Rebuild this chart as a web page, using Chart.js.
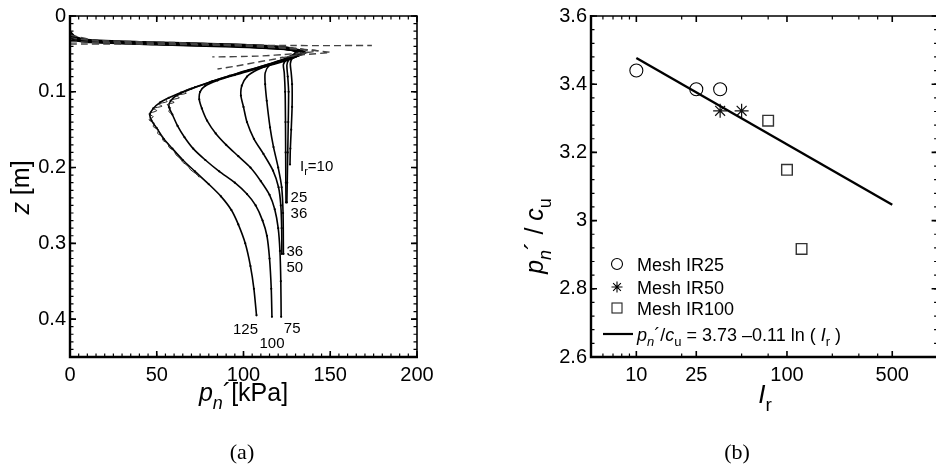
<!DOCTYPE html>
<html>
<head>
<meta charset="utf-8">
<script src="https://cdn.jsdelivr.net/npm/chart.js@4.4.1/dist/chart.umd.min.js"></script>
<style>
  html, body { margin: 0; padding: 0; background: #fff; width: 936px; height: 468px; overflow: hidden; }
  #wrapA { position: absolute; left: 0; top: 0; width: 460px; height: 468px; }
  #wrapB { position: absolute; left: 470px; top: 0; width: 480px; height: 468px; }
</style>
</head>
<body>
<div id="wrapA"><canvas id="chartA"></canvas></div>
<div id="wrapB"><canvas id="chartB"></canvas></div>
<script>
// ---------- Panel (a): normal pressure profiles p_n' [kPa] against depth z [m] ----------
const profIr10  = [[0,0.020],[3,0.027],[10,0.031],[40,0.034],[90,0.037],[120,0.040],[130,0.044],[131,0.050],[128,0.056],[127,0.063],[127.5,0.075],[128,0.090],[128,0.120],[127.5,0.150],[127,0.175],[126.8,0.196]];
const profIr25  = [[0,0.021],[3,0.028],[12,0.032],[50,0.035],[100,0.038],[126,0.042],[132,0.046],[129,0.052],[126,0.058],[125,0.065],[125.5,0.080],[126,0.100],[125.8,0.140],[125.5,0.180],[125.2,0.220],[125,0.246]];
const profIr36a = [[0,0.022],[4,0.029],[15,0.033],[55,0.036],[100,0.039],[128,0.043],[135,0.047],[130,0.053],[125,0.058],[123,0.064],[123.5,0.075],[124,0.100],[124.2,0.140],[124.3,0.180],[124.4,0.220],[124.5,0.246]];
const profIr36b = [[0,0.032],[12,0.035],[50,0.038],[95,0.041],[125,0.044],[136,0.048],[130,0.054],[121,0.059],[115,0.065],[112.5,0.075],[112.5,0.090],[113.4,0.112],[115.3,0.147],[117.3,0.173],[120,0.200],[122,0.226],[122.8,0.260],[123,0.314]];
const profIr50  = [[0,0.030],[10,0.034],[40,0.037],[90,0.040],[120,0.043],[134,0.047],[132,0.052],[124,0.058],[116,0.064],[108,0.071],[102,0.080],[99,0.092],[98.5,0.105],[100,0.120],[102,0.140],[106,0.162],[111.5,0.182],[117,0.204],[120.2,0.226],[121.5,0.250],[122,0.280],[122.1,0.314]];
const profIr75  = [[0,0.028],[8,0.033],[30,0.036],[80,0.039],[110,0.042],[132,0.046],[133,0.050],[127,0.057],[117,0.064],[106,0.071],[95,0.078],[85,0.085],[78,0.092],[75,0.100],[74.5,0.110],[76,0.122],[79,0.138],[84,0.155],[90,0.170],[97,0.185],[104,0.200],[110,0.218],[115,0.236],[118,0.255],[120,0.280],[121,0.310],[121.5,0.350],[121.7,0.397]];
const profIr100 = [[0,0.026],[6,0.032],[25,0.035],[70,0.038],[105,0.041],[128,0.045],[131,0.049],[125,0.056],[114,0.064],[103,0.071],[92,0.079],[81,0.087],[70,0.096],[62,0.104],[58,0.112],[57,0.120],[59,0.130],[62,0.145],[66,0.160],[71,0.175],[78,0.190],[86,0.205],[95,0.220],[102,0.235],[107,0.250],[111,0.270],[113.5,0.290],[115,0.320],[116,0.360],[116.4,0.397]];
const profIr125 = [[0,0.024],[5,0.031],[20,0.035],[60,0.037],[100,0.040],[125,0.044],[130,0.048],[124,0.056],[115,0.063],[104,0.071],[92,0.079],[82,0.086],[72,0.094],[64,0.101],[57,0.108],[52,0.114],[48,0.122],[46,0.130],[47,0.138],[50,0.148],[54,0.162],[59,0.175],[65,0.190],[72,0.205],[80,0.222],[87,0.238],[93,0.256],[97,0.275],[101,0.300],[104,0.330],[106,0.360],[107.5,0.395]];

// unsmoothed traces near the pressure minimum
const rawIr125 = [[58,0.107],[55,0.110],[56,0.113],[51,0.116],[53,0.119],[48,0.122],[50,0.125],[45.5,0.129],[48,0.133],[45.5,0.137],[48.5,0.141],[48,0.146],[51,0.150],[50.5,0.155],[53.5,0.159],[53.5,0.164],[56.5,0.168],[57,0.173],[60,0.178],[61,0.183],[63.5,0.188],[65,0.193],[68,0.198],[69.5,0.203],[72.5,0.208],[74.5,0.213]];
const rawIr100 = [[70,0.095],[66,0.099],[67,0.102],[61,0.105],[63,0.108],[58,0.111],[60,0.114],[56,0.117],[58,0.121],[57,0.126],[59,0.130]];

// dashed traces of the shallow pressure peak
const peakDashA = [[0,0.037],[30,0.037],[80,0.038],[130,0.039],[174,0.039]];
const peakDashB = [[0,0.034],[40,0.036],[95,0.039],[128,0.043],[143,0.046],[128,0.050],[108,0.053],[82,0.054]];
const peakDashC = [[0,0.029],[20,0.034],[70,0.037],[115,0.041],[138,0.045],[150,0.048],[135,0.051],[121,0.055]];
const peakDashD = [[0,0.025],[15,0.032],[60,0.035],[110,0.039],[132,0.043],[138,0.047],[125,0.054],[110,0.060],[96,0.066],[85,0.070]];

const pTicksA = [0, 50, 100, 150, 200];
const zTicksA = [0, 0.1, 0.2, 0.3, 0.4];

// ---------- Panel (b): normalised pressure against rigidity index ----------
const meshIR25_Ir  = [10, 25, 36];
const meshIR25_pc  = [3.44, 3.385, 3.385];
const meshIR50_Ir  = [36, 50];
const meshIR50_pc  = [3.322, 3.322];
const meshIR100_Ir = [75, 100, 125];
const meshIR100_pc = [3.293, 3.149, 2.917];
const fitA = 3.73, fitB = 0.11;          // p_n'/c_u = 3.73 - 0.11 ln(I_r)
const fitIr = [10, 500];
const irTicksB  = [10, 25, 100, 500];
const irMinorB  = [6, 7, 8, 9, 20, 50, 75, 200, 300, 400];
const pcTicksB  = [2.6, 2.8, 3, 3.2, 3.4, 3.6];

const FONT = '"Liberation Sans", Arial, sans-serif';
const SERIF = '"Liberation Serif", "DejaVu Serif", serif';

const toXY = arr => arr.map(([x, y]) => ({ x, y }));

// text made of plain / italic / subscript runs
function richText(ctx, parts, x, y, size, align = 'left', rot = 0) {
  const fontOf = st => (st.includes('i') ? 'italic ' : '') + (st.includes('s') ? Math.round(size * 0.72) : size) + 'px ' + FONT;
  ctx.save();
  ctx.translate(x, y);
  if (rot) ctx.rotate(rot);
  let total = 0;
  parts.forEach(([t, st = '']) => { ctx.font = fontOf(st); total += ctx.measureText(t).width; });
  let cx = align === 'center' ? -total / 2 : (align === 'right' ? -total : 0);
  ctx.textAlign = 'left';
  ctx.textBaseline = 'alphabetic';
  ctx.fillStyle = '#000';
  parts.forEach(([t, st = '']) => {
    ctx.font = fontOf(st);
    ctx.fillText(t, cx, st.includes('s') ? size * 0.3 : 0);
    cx += ctx.measureText(t).width;
  });
  ctx.restore();
}

// box frame with inward tick marks on all four sides
const frameTicks = {
  id: 'frameTicks',
  afterDatasetsDraw(chart, args, o) {
    const { ctx, chartArea: a, scales: { x, y } } = chart;
    ctx.save();
    ctx.strokeStyle = '#000';
    const xMarks = (vals, len) => {
      vals.forEach(v => {
        const px = x.getPixelForValue(v);
        if (px < a.left - 0.5 || px > a.right + 0.5) return;
        ctx.moveTo(px, a.bottom); ctx.lineTo(px, a.bottom - len);
        ctx.moveTo(px, a.top); ctx.lineTo(px, a.top + len);
      });
    };
    const yMarks = (vals, len) => {
      vals.forEach(v => {
        const py = y.getPixelForValue(v);
        if (py < a.top - 0.5 || py > a.bottom + 0.5) return;
        ctx.moveTo(a.left, py); ctx.lineTo(a.left + len, py);
        ctx.moveTo(a.right, py); ctx.lineTo(a.right - len, py);
      });
    };
    ctx.lineWidth = 1.2;
    ctx.beginPath();
    xMarks(o.xMinor, o.minorLen); yMarks(o.yMinor, o.minorLen);
    ctx.stroke();
    ctx.lineWidth = 1.6;
    ctx.beginPath();
    xMarks(o.xMajor, o.majorLen); yMarks(o.yMajor, o.majorLen);
    ctx.stroke();
    // frame: heavier left/bottom
    ctx.lineWidth = 1.6;
    ctx.beginPath();
    ctx.moveTo(a.left, a.top); ctx.lineTo(a.right, a.top); ctx.lineTo(a.right, a.bottom);
    ctx.stroke();
    ctx.lineWidth = 2.4;
    ctx.beginPath();
    ctx.moveTo(a.left, a.top - 1); ctx.lineTo(a.left, a.bottom); ctx.lineTo(a.right + 1, a.bottom);
    ctx.stroke();
    ctx.restore();
  }
};

const range = (a, b, step) => { const out = []; for (let v = a; v <= b + 1e-9; v += step) out.push(+v.toFixed(4)); return out; };

// ----- labels / titles for panel (a)
const tagsA = {
  id: 'tagsA',
  afterDraw(chart) {
    const { ctx, scales: { x, y } } = chart;
    const at = (pt, dx, dy) => [x.getPixelForValue(pt[0]) + dx, y.getPixelForValue(pt[1]) + dy];
    const end = arr => arr[arr.length - 1];
    const small = 15;
    let [tx, ty] = at(end(profIr10), 10, 6);
    richText(ctx, [['I'], ['r', 's'], ['=10']], tx, ty, small, 'left');
    [tx, ty] = at(end(profIr25), 12, 0); richText(ctx, [['25']], tx, ty, small, 'center');
    [tx, ty] = at(end(profIr25), 12, 16); richText(ctx, [['36']], tx, ty, small, 'center');
    [tx, ty] = at(end(profIr50), 13, 2); richText(ctx, [['36']], tx, ty, small, 'center');
    [tx, ty] = at(end(profIr50), 13, 18); richText(ctx, [['50']], tx, ty, small, 'center');
    [tx, ty] = at(end(profIr125), -11, 19); richText(ctx, [['125']], tx, ty, small, 'center');
    [tx, ty] = at(end(profIr75), 11, 16); richText(ctx, [['75']], tx, ty, small, 'center');
    [tx, ty] = at(end(profIr100), 0, 31); richText(ctx, [['100']], tx, ty, small, 'center');

    const a = chart.chartArea;
    richText(ctx, [['p', 'i'], ['n', 'is'], ['\u00B4[kPa]']], (a.left + a.right) / 2 + 0, 401, 25, 'center');
    richText(ctx, [['z', 'i'], [' [m]']], 29, (a.top + a.bottom) / 2 + 1, 25, 'center', -Math.PI / 2);
    ctx.save();
    ctx.font = '22px ' + SERIF; ctx.fillStyle = '#000'; ctx.textAlign = 'center'; ctx.textBaseline = 'alphabetic';
    ctx.fillText('(a)', 242, 459);
    ctx.restore();
  }
};

// ----- legend / titles for panel (b)
const tagsB = {
  id: 'tagsB',
  afterDraw(chart) {
    const { ctx, chartArea: a } = chart;
    const sx = a.left + 26, tx = a.left + 46, fs = 18;
    const rows = [a.top + 248, a.top + 271, a.top + 292, a.top + 318];
    ctx.save();
    ctx.strokeStyle = '#000'; ctx.lineWidth = 1.1;
    ctx.beginPath(); ctx.arc(sx, rows[0], 5.5, 0, Math.PI * 2); ctx.stroke();
    ctx.beginPath();
    for (let k = 0; k < 4; k++) {
      const ang = k * Math.PI / 4;
      ctx.moveTo(sx - 5.5 * Math.cos(ang), rows[1] - 5.5 * Math.sin(ang));
      ctx.lineTo(sx + 5.5 * Math.cos(ang), rows[1] + 5.5 * Math.sin(ang));
    }
    ctx.stroke();
    ctx.strokeStyle = '#222';
    ctx.strokeRect(sx - 5, rows[2] - 5, 10, 10);
    ctx.strokeStyle = '#000'; ctx.lineWidth = 2.2;
    ctx.beginPath(); ctx.moveTo(a.left + 12, rows[3]); ctx.lineTo(a.left + 42, rows[3]); ctx.stroke();
    ctx.restore();
    richText(ctx, [['Mesh IR25']], tx, rows[0] + 6.5, fs);
    richText(ctx, [['Mesh IR50']], tx, rows[1] + 6.5, fs);
    richText(ctx, [['Mesh IR100']], tx, rows[2] + 6.5, fs);
    richText(ctx, [['p', 'i'], ['n', 'is'], ['\u00B4/'], ['c', 'i'], ['u', 's'], [' = 3.73 \u20130.11 ln ( '], ['I', 'i'], ['r', 's'], [' )']], tx, rows[3] + 6.5, fs);

    richText(ctx, [['p', 'i'], ['n', 'is'], ['\u00B4 / '], ['c', 'i'], ['u', 's']], 73, 236, 25, 'center', -Math.PI / 2);
    richText(ctx, [['I', 'i'], ['r', 's']], 295, 403, 26, 'center');
    ctx.save();
    ctx.font = '22px ' + SERIF; ctx.fillStyle = '#000'; ctx.textAlign = 'center'; ctx.textBaseline = 'alphabetic';
    ctx.fillText('(b)', 737 - 470, 459);
    ctx.restore();
  }
};

Chart.defaults.font.family = FONT;
Chart.defaults.color = '#000';

const solid = (data, extra = {}) => Object.assign({
  data: toXY(data), showLine: true, borderColor: '#000', backgroundColor: '#000', borderWidth: 1.6,
  tension: 0.25, pointRadius: c => (c.raw && c.raw.y > 0.075 ? 1.1 : 0), pointHoverRadius: 0, pointBorderWidth: 0
}, extra);
const dashed = data => ({
  data: toXY(data), showLine: true, borderColor: '#444', borderWidth: 1.4, borderDash: [7, 4],
  tension: 0.2, pointRadius: 0
});
const thin = data => ({
  data: toXY(data), showLine: true, borderColor: '#111', borderWidth: 0.9, tension: 0.3, pointRadius: 0
});

new Chart(document.getElementById('chartA'), {
  type: 'scatter',
  data: {
    datasets: [
      dashed(peakDashA), dashed(peakDashB), dashed(peakDashC), dashed(peakDashD),
      thin(rawIr125), thin(rawIr100),
      solid(profIr10), solid(profIr25), solid(profIr36a), solid(profIr36b), solid(profIr50),
      solid(profIr75), solid(profIr100), solid(profIr125)
    ]
  },
  options: {
    responsive: true, maintainAspectRatio: false, animation: false, devicePixelRatio: 1,
    layout: { padding: { left: 0, right: 43, top: 15, bottom: 0 } },
    plugins: { legend: { display: false }, tooltip: { enabled: false },
      frameTicks: { xMajor: pTicksA, xMinor: range(0, 200, 5), yMajor: zTicksA, yMinor: range(0, 0.45, 0.01), majorLen: 6, minorLen: 3.5 } },
    scales: {
      x: {
        type: 'linear', min: 0, max: 200,
        grid: { display: false, drawTicks: false }, border: { display: false },
        afterBuildTicks: s => { s.ticks = pTicksA.map(v => ({ value: v })); },
        afterFit: s => { s.height = 111; },
        ticks: { autoSkip: false, maxRotation: 0, padding: 6, font: { size: 20 }, callback: v => String(v) }
      },
      y: {
        type: 'linear', reverse: true, min: 0, max: 0.45,
        grid: { display: false, drawTicks: false }, border: { display: false },
        afterBuildTicks: s => { s.ticks = zTicksA.map(v => ({ value: v })); },
        afterFit: s => { s.width = 70; },
        ticks: { autoSkip: false, padding: 4, font: { size: 20 }, callback: v => String(v) }
      }
    }
  },
  plugins: [frameTicks, tagsA]
});

new Chart(document.getElementById('chartB'), {
  type: 'scatter',
  data: {
    datasets: [
      { data: fitIr.map(v => ({ x: v, y: fitA - fitB * Math.log(v) })), showLine: true, borderColor: '#000', borderWidth: 2.4, pointRadius: 0 },
      { data: meshIR25_Ir.map((v, i) => ({ x: v, y: meshIR25_pc[i] })), pointStyle: 'circle', pointRadius: 6.5, borderColor: '#000', backgroundColor: 'rgba(0,0,0,0)', borderWidth: 1.1 },
      { data: meshIR50_Ir.map((v, i) => ({ x: v, y: meshIR50_pc[i] })), pointStyle: 'star', pointRadius: 7, borderColor: '#111', backgroundColor: 'rgba(0,0,0,0)', borderWidth: 1.2 },
      { data: meshIR100_Ir.map((v, i) => ({ x: v, y: meshIR100_pc[i] })), pointStyle: 'rect', pointRadius: 7.5, borderColor: '#333', backgroundColor: 'rgba(0,0,0,0)', borderWidth: 1.4 }
    ]
  },
  options: {
    responsive: true, maintainAspectRatio: false, animation: false, devicePixelRatio: 1,
    layout: { padding: { left: 0, right: 12.4, top: 15, bottom: 0 } },
    plugins: { legend: { display: false }, tooltip: { enabled: false },
      frameTicks: { xMajor: irTicksB, xMinor: irMinorB, yMajor: pcTicksB, yMinor: range(2.6, 3.6, 0.04), majorLen: 6, minorLen: 3.5 } },
    scales: {
      x: {
        type: 'logarithmic', min: 5, max: 1000,
        grid: { display: false, drawTicks: false }, border: { display: false },
        afterBuildTicks: s => { s.ticks = irTicksB.map(v => ({ value: v })); },
        afterFit: s => { s.height = 111; },
        ticks: { autoSkip: false, maxRotation: 0, padding: 6, font: { size: 20 }, callback: v => String(v) }
      },
      y: {
        type: 'linear', min: 2.6, max: 3.6,
        grid: { display: false, drawTicks: false }, border: { display: false },
        afterBuildTicks: s => { s.ticks = pcTicksB.map(v => ({ value: v })); },
        afterFit: s => { s.width = 121; },
        ticks: { autoSkip: false, padding: 4, font: { size: 20 }, callback: v => String(v) }
      }
    }
  },
  plugins: [frameTicks, tagsB]
});
</script>
</body>
</html>
